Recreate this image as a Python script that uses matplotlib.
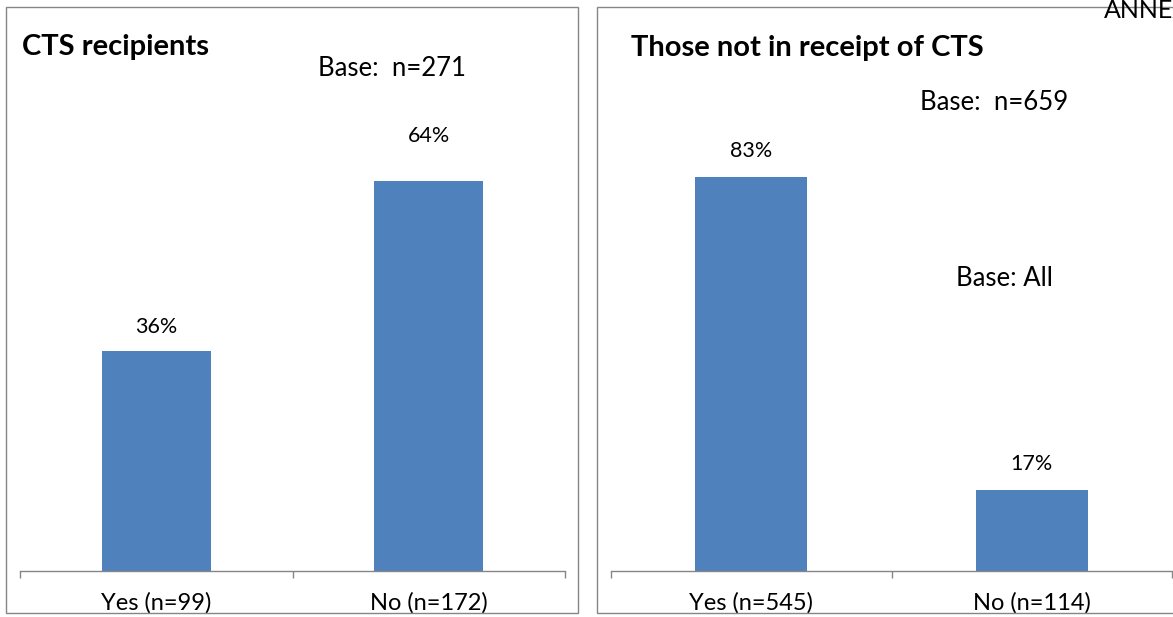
import matplotlib
matplotlib.use('Agg')

import matplotlib.pyplot as plt
from matplotlib.patches import Rectangle

plt.rcParams['font.family'] = ['Lato', 'DejaVu Sans']

# data
left_cats = ['Yes (n=99)', 'No (n=172)']
left_vals = [36, 64]
right_cats = ['Yes (n=545)', 'No (n=114)']
right_vals = [83, 17]

W, H = 1173, 617
BLUE = '#4F81BD'
GREY = '#868686'


def px_box(x0, y0, x1, y1):
    # pixel box (top-left origin) -> figure fraction [l, b, w, h]
    return [x0 / W, 1 - y1 / H, (x1 - x0) / W, (y1 - y0) / H]


def draw_panel(ax, cats, vals, ymax, offsets):
    x = list(range(len(cats)))
    ax.bar(x, vals, width=0.4, color=BLUE, zorder=2)
    for xi, v, off in zip(x, vals, offsets):
        ax.annotate(f'{v}%', (xi, v), xytext=(0, off), textcoords='offset points',
                    ha='center', va='center', fontsize=15.5)
    ax.set_xlim(-0.5, len(cats) - 0.5)
    ax.set_ylim(0, ymax)
    for s in ['top', 'left', 'right']:
        ax.spines[s].set_visible(False)
    ax.spines['bottom'].set_color(GREY)
    ax.spines['bottom'].set_linewidth(1.0)
    ax.set_yticks([])
    ax.set_xticks(x)
    ax.set_xticklabels(cats, fontsize=17)
    ax.tick_params(axis='x', which='major', length=0, pad=15)
    ax.set_xticks([i - 0.5 for i in range(len(cats) + 1)], minor=True)
    ax.tick_params(axis='x', which='minor', length=5, color=GREY, width=1.0)
    ax.patch.set_alpha(0)


fig = plt.figure(figsize=(W / 100, H / 100), dpi=100)

# panel frames
fig.patches.append(Rectangle((6 / W, 1 - 613 / H), 572 / W, 606 / H, transform=fig.transFigure,
                             fill=False, edgecolor=GREY, linewidth=1.0))
fig.patches.append(Rectangle((597 / W, 1 - 613 / H), 590 / W, 606 / H, transform=fig.transFigure,
                             fill=False, edgecolor=GREY, linewidth=1.0))

ax1 = fig.add_axes(px_box(20, 144, 565, 571))
draw_panel(ax1, left_cats, left_vals, 70, [17.5, 32])
ax2 = fig.add_axes(px_box(611, 144, 1172, 571))
draw_panel(ax2, right_cats, right_vals, 90, [19, 19])

fig.text(22 / W, 1 - 47 / H, 'CTS recipients', fontsize=21, fontweight='bold', va='center')
fig.text(318 / W, 1 - 69 / H, 'Base:  n=271', fontsize=18.5, va='center')
fig.text(631 / W, 1 - 48 / H, 'Those not in receipt of CTS', fontsize=21, fontweight='bold', va='center')
fig.text(920 / W, 1 - 103 / H, 'Base:  n=659', fontsize=18.5, va='center')
fig.text(956 / W, 1 - 278 / H, 'Base: All', fontsize=18.5, va='center')
fig.text(1104 / W, 1 - 10 / H, 'ANNEX', fontsize=18, va='center')

fig.savefig('out.png', dpi=100)
